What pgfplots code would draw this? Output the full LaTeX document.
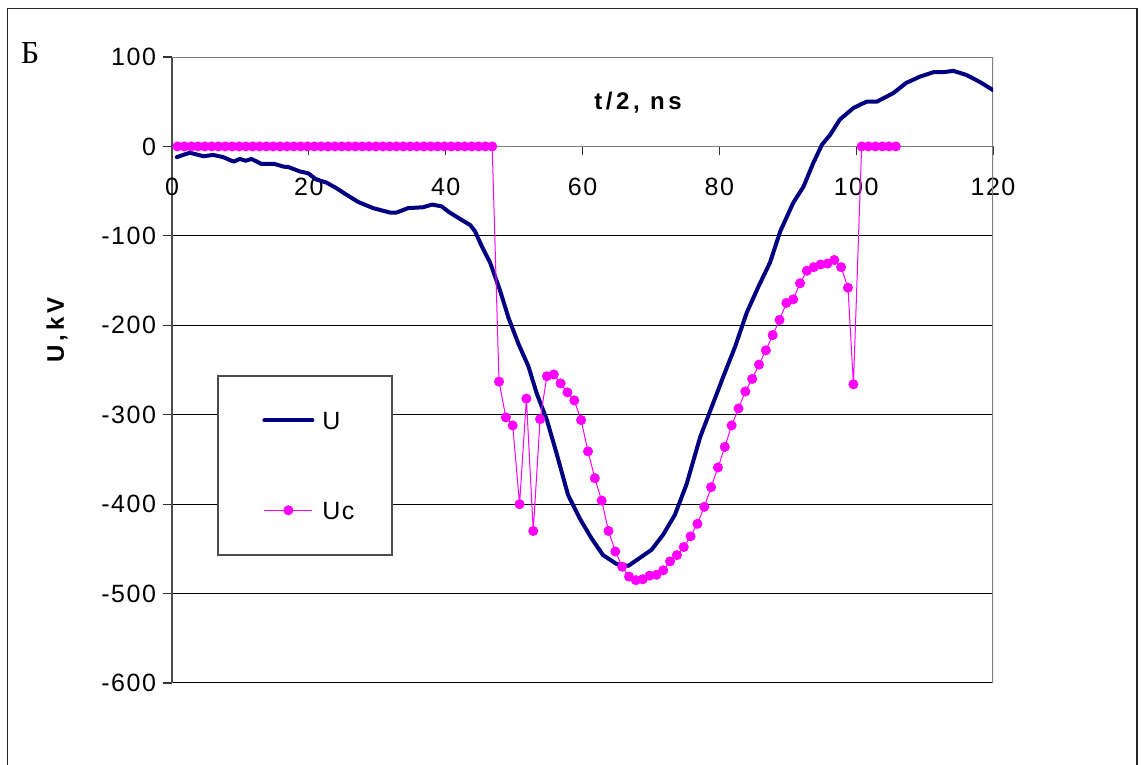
\documentclass[border=0pt]{standalone}
\usepackage{fontspec}
\setmainfont{Liberation Sans}
\newfontfamily\tickfamily[LetterSpace=6]{Liberation Sans}
\newfontfamily\labfamily[LetterSpace=15]{Liberation Sans}
\newfontfamily\seriffamily{Liberation Serif}
\usepackage{pgfplots}
\pgfplotsset{compat=1.18}
\newcommand\tickfont{\tickfamily\fontsize{12.5}{15}\selectfont}
\newcommand\labfont{\labfamily\bfseries\fontsize{12}{14}\selectfont}
\definecolor{unavy}{RGB}{0,0,128}
\definecolor{ucmag}{RGB}{255,0,255}
\begin{document}
\begin{tikzpicture}
\useasboundingbox (0,0) rectangle (570.5pt,382.5pt);
\draw[line width=0.75pt, black!85] (3.75pt,-10pt) -- (3.75pt,378.25pt) -- (568.5pt,378.25pt) -- (568.5pt,-10pt);
\node[font=\seriffamily\fontsize{16}{19}\selectfont] at (15pt,356pt) {Б};
\begin{axis}[
  at={(86pt,41pt)}, anchor=south west,
  scale only axis, width=410.5pt, height=313pt,
  xmin=0, xmax=120, ymin=-600, ymax=100,
  axis x line=middle, axis y line=left,
  hide obscured x ticks=false, hide obscured y ticks=false,
  x axis line style={-, draw=gray, line width=0.8pt},
  y axis line style={-, draw=black!70, line width=0.8pt},
  xtick={0,20,...,120}, ytick={-600,-500,...,100},
  tick align=outside, major tick length=4.5pt,
  tick style={black!80, line width=0.6pt},
  ymajorgrids, grid style={black, line width=0.5pt},
  ticklabel style={font=\tickfont},
  xticklabel style={yshift=-8pt},
  /pgf/number format/assume math mode=true,
  xlabel={t/2,\ ns}, ylabel={U,kV},
  every axis x label/.style={at={(axis description cs:0.5676,0.9265)}, anchor=center, font=\labfont},
  every axis y label/.style={at={(axis description cs:-0.140,0.564)}, anchor=center, rotate=90, font=\labfont},
  legend cell align=left,
  legend image code/.code={\draw[mark repeat=2,mark phase=2,#1] plot coordinates {(0pt,0pt) (12pt,0pt) (24pt,0pt)};},
  legend style={at={(axis cs:6.72,-256.6)}, anchor=north west, draw=none, fill=none,
     font=\tickfont, inner xsep=22pt, inner ysep=17.5pt, row sep=36pt, column sep=4pt,
     nodes={inner sep=0pt, text height=9pt, text depth=0pt}},
]
\draw[gray, line width=0.8pt] (axis cs:0,100) -- (axis cs:120,100) -- (axis cs:120,-600);
\draw[black!70, line width=0.6pt, fill=white] (axis cs:6.72,-256.6) rectangle (axis cs:32.15,-456.8);
\addplot[unavy, line width=2pt, line join=round, line cap=round] coordinates {
(0.7,-12) (2.6,-7) (4.6,-11) (6.0,-9.5) (7.5,-12) (9,-17) (9.9,-14) (10.8,-16) (11.6,-14)
(13.1,-19.6) (15,-19.6) (16.3,-22.6) (17,-23) (18.7,-28) (19.9,-30) (21.1,-37) (22.6,-40.5)
(24.1,-47) (25.5,-54) (27.2,-62) (29.4,-69) (31.9,-74) (32.8,-74) (34.5,-69) (36.7,-68)
(38,-65) (39.4,-67) (40.6,-74) (42.3,-82) (43.6,-88) (44.3,-95) (45.3,-112) (46.5,-130)
(47.9,-160) (49.2,-192) (50.6,-220) (52.1,-246) (53.3,-276) (54.8,-306) (56.2,-343)
(57.9,-390) (59.6,-416) (61.3,-438) (63,-457) (65,-467) (66.7,-469) (68.4,-460) (70.1,-451)
(71.8,-434) (73.5,-412) (75.2,-378) (77.2,-325) (78.9,-291) (80.6,-257) (82.3,-224)
(84,-186) (85.7,-157) (87.4,-130) (88.9,-95) (90.8,-63) (92.3,-45) (93.7,-19) (95,2)
(96.2,13) (97.6,30) (99.6,43) (101.5,50) (103,50) (105.4,59.5) (107.3,71) (109.3,78)
(111.3,83) (112.7,83) (114.2,84.5) (116.1,80) (118.1,72) (120,63)
};
\addlegendentry{U}
\addplot[ucmag, line width=0.5pt, mark=*, mark size=2.25pt, mark options={fill=ucmag, draw=ucmag}] coordinates {
(0.8,0) (1.8,0) (2.8,0) (3.8,0) (4.8,0) (5.8,0) (6.8,0) (7.8,0) (8.8,0) (9.8,0)
(10.8,0) (11.8,0) (12.8,0) (13.8,0) (14.8,0) (15.8,0) (16.8,0) (17.8,0) (18.8,0) (19.8,0)
(20.8,0) (21.8,0) (22.8,0) (23.8,0) (24.8,0) (25.8,0) (26.8,0) (27.8,0) (28.8,0) (29.8,0)
(30.8,0) (31.8,0) (32.8,0) (33.8,0) (34.8,0) (35.8,0) (36.8,0) (37.8,0) (38.8,0) (39.8,0)
(40.8,0) (41.8,0) (42.8,0) (43.8,0) (44.8,0) (45.8,0) (46.8,0)
(47.8,-263) (48.8,-303) (49.8,-312) (50.8,-400) (51.8,-282) (52.8,-430) (53.8,-305)
(54.8,-257) (55.8,-255) (56.8,-265) (57.8,-275) (58.8,-284) (59.8,-306) (60.8,-341)
(61.8,-371) (62.8,-396) (63.8,-430) (64.8,-453) (65.8,-470) (66.8,-481) (67.8,-485)
(68.8,-484) (69.8,-480) (70.8,-479) (71.8,-474) (72.8,-464) (73.8,-457) (74.8,-448)
(75.8,-436) (76.8,-422) (77.8,-403) (78.8,-381) (79.8,-359) (80.8,-336) (81.8,-312)
(82.8,-293) (83.8,-274) (84.8,-260) (85.8,-244) (86.8,-228) (87.8,-211) (88.8,-194)
(89.8,-175) (90.8,-171) (91.8,-153) (92.8,-139) (93.8,-135) (94.8,-132) (95.8,-131)
(96.8,-127) (97.8,-135) (98.8,-158) (99.6,-266)
(100.8,0) (101.8,0) (102.8,0) (103.8,0) (104.8,0) (105.8,0)
};
\addlegendentry{Uc}
\end{axis}
\end{tikzpicture}
\end{document}
